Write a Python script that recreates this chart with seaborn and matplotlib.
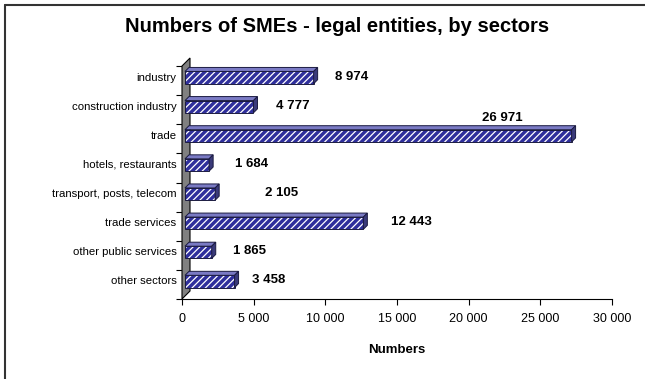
import matplotlib
matplotlib.use("Agg")
import matplotlib.pyplot as plt
import seaborn as sns
from matplotlib.patches import Polygon, Rectangle
from matplotlib.lines import Line2D
from matplotlib.transforms import ScaledTranslation

# Number of SMEs (legal entities) per sector
sectors = [
    "industry",
    "construction industry",
    "trade",
    "hotels, restaurants",
    "transport, posts, telecom",
    "trade services",
    "other public services",
    "other sectors",
]
counts = [8974, 4777, 26971, 1684, 2105, 12443, 1865, 3458]
x_ticks = [0, 5000, 10000, 15000, 20000, 25000, 30000]
x_tick_labels = ["0", "5 000", "10 000", "15 000", "20 000", "25 000", "30 000"]

# horizontal pixel gap between each bar end and its value label
label_gap_px = [17, 19, 0, 22, 46, 24, 17, 13]

sns.set_theme(style="white")
plt.rcParams["font.family"] = ["Liberation Sans", "DejaVu Sans"]
plt.rcParams["text.color"] = "black"
plt.rcParams["xtick.color"] = "black"
plt.rcParams["ytick.color"] = "black"
plt.rcParams["hatch.linewidth"] = 0.9

W, H, DPI = 645, 379, 100
fig = plt.figure(figsize=(W / DPI, H / DPI), dpi=DPI)
fig.patch.set_facecolor("white")

ax_left, ax_right, ax_top, ax_bottom = 182, 612, 66, 299
ax = fig.add_axes([ax_left / W, 1 - ax_bottom / H,
                   (ax_right - ax_left) / W, (ax_bottom - ax_top) / H])

sns.barplot(x=counts, y=sectors, orient="h", ax=ax, width=0.42,
            color="#2f2f9c", saturation=1, hatch="/////",
            edgecolor="white", linewidth=0, zorder=3)

ax.set_xlim(0, 30000)
ax.set_ylim(len(sectors) - 0.5, -0.5)

# pixel -> data conversions for the pseudo-3D depth
px_x = 30000 / (ax_right - ax_left)
px_y = len(sectors) / (ax_bottom - ax_top)

# grey back wall
wall = 8
wall_poly = Polygon(
    [(0, len(sectors) - 0.5), (0, -0.5),
     (wall * px_x, -0.5 - wall * px_y), (wall * px_x, len(sectors) - 0.5 - wall * px_y)],
    closed=True, facecolor="#808080", edgecolor="black", linewidth=0.8,
    clip_on=False, zorder=1)
ax.add_patch(wall_poly)

# bars sit a little behind the front plane
shift = ScaledTranslation(3 / DPI, 3 / DPI, fig.dpi_scale_trans)
bar_tr = ax.transData + shift
depth = 4
dx, dy = depth * px_x, depth * px_y
for p in list(ax.patches):
    if p is wall_poly:
        continue
    p.set_transform(bar_tr)
    x0, yt = p.get_x(), p.get_y()
    x1, yb = x0 + p.get_width(), yt + p.get_height()
    ax.add_patch(Rectangle((x0, yt), x1 - x0, yb - yt, fill=False,
                           edgecolor="#1a1a40", linewidth=0.7,
                           transform=bar_tr, clip_on=False, zorder=4))
    top = Polygon([(x0, yt), (x1, yt), (x1 + dx, yt - dy), (x0 + dx, yt - dy)],
                  closed=True, facecolor="#7a7ac4", edgecolor="#1a1a40",
                  linewidth=0.7, transform=bar_tr, clip_on=False, zorder=4)
    side = Polygon([(x1, yt), (x1 + dx, yt - dy), (x1 + dx, yb - dy), (x1, yb)],
                   closed=True, facecolor="#3a3a7a", edgecolor="#1a1a40",
                   linewidth=0.7, transform=bar_tr, clip_on=False, zorder=4)
    ax.add_patch(top)
    ax.add_patch(side)

# value labels
for i, v in enumerate(counts):
    txt = f"{v:,}".replace(",", " ")
    end_px = 3 + depth
    if sectors[i] == "trade":
        ax.annotate(txt, xy=(v, i), xytext=(-66, 21), textcoords="offset pixels",
                    ha="center", va="center", fontsize=9.5, fontweight="bold",
                    color="black", zorder=6, annotation_clip=False)
    else:
        ax.annotate(txt, xy=(v, i), xytext=(end_px + label_gap_px[i], 4),
                    textcoords="offset pixels", ha="left", va="center",
                    fontsize=9.5, fontweight="bold", color="black", zorder=6,
                    annotation_clip=False)

# axes styling
for s in ["top", "right", "left"]:
    ax.spines[s].set_visible(False)
ax.spines["bottom"].set_color("black")
ax.spines["bottom"].set_linewidth(0.8)
ax.spines["bottom"].set_zorder(5)

ax.set_xticks(x_ticks)
ax.set_xticklabels(x_tick_labels, fontsize=9)
ax.tick_params(axis="x", direction="out", length=4, width=0.8, color="black",
               pad=6, bottom=True)
ax.set_yticks(range(len(sectors)))
ax.set_yticklabels(sectors, fontsize=8.2)
ax.tick_params(axis="y", which="major", length=0, pad=4)
label_shift = ScaledTranslation(0, 4 / DPI, fig.dpi_scale_trans)
for lbl in ax.get_yticklabels():
    lbl.set_transform(lbl.get_transform() + label_shift)
ax.set_yticks([i - 0.5 for i in range(len(sectors) + 1)], minor=True)
ax.tick_params(axis="y", which="minor", direction="out", length=4, width=0.8,
               color="black", left=True)
ax.set_ylabel("")
ax.set_xlabel("")
ax.grid(False)
ax.set_facecolor("none")

fig.text(397 / W, 1 - 350 / H, "Numbers", ha="center", va="center",
         fontsize=9.5, fontweight="bold")
fig.text(337 / W, 1 - 26 / H, "Numbers of SMEs - legal entities, by sectors",
         ha="center", va="center", fontsize=14.5, fontweight="bold")

# chart frame (top and left edges)
fig.add_artist(Line2D([4.5 / W, 1], [1 - 4.5 / H, 1 - 4.5 / H],
                      transform=fig.transFigure, color="#333333", linewidth=1.5))
fig.add_artist(Line2D([4.5 / W, 4.5 / W], [0, 1 - 4.5 / H],
                      transform=fig.transFigure, color="#333333", linewidth=1.5))

fig.savefig("out.png", dpi=DPI, facecolor="white")
